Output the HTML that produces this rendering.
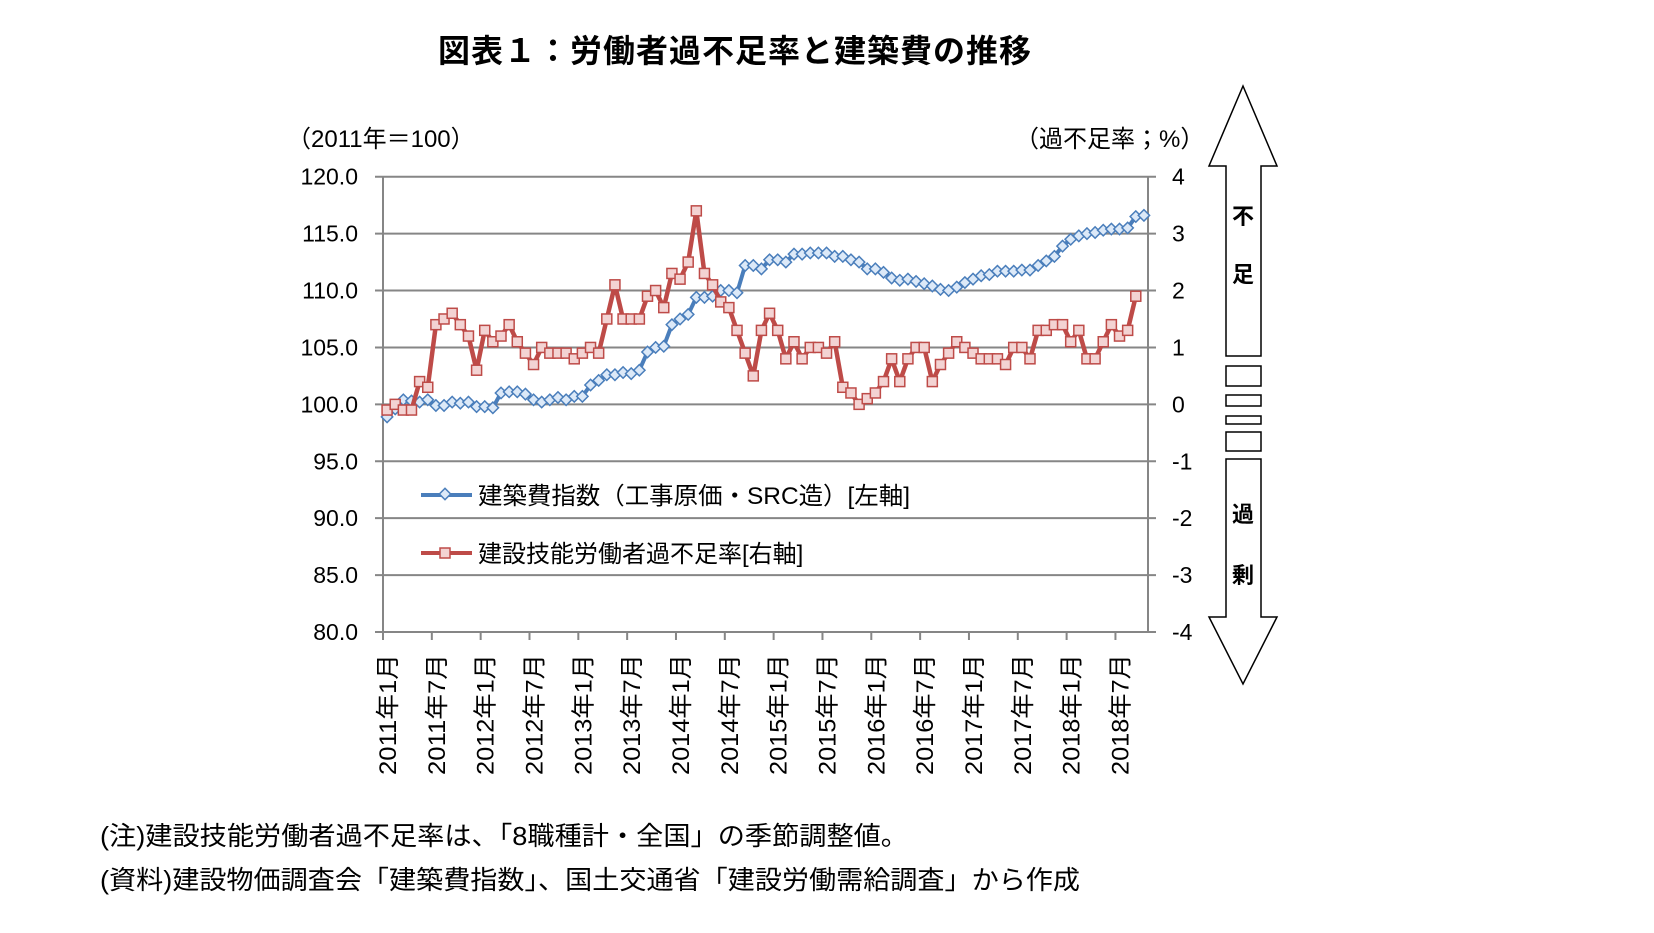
<!DOCTYPE html>
<html><head><meta charset="utf-8">
<style>
body{margin:0;background:#fff;}
svg text{font-family:"Liberation Sans","Noto Sans CJK JP",sans-serif;fill:#000;}
</style></head>
<body>
<svg id="c" width="1654" height="928" viewBox="0 0 1654 928" xmlns="http://www.w3.org/2000/svg">
<text x="735" y="62" font-size="32" font-weight="bold" text-anchor="middle" letter-spacing="1">図表１：労働者過不足率と建築費の推移</text>
<text x="287" y="147" font-size="24">（2011年＝100）</text>
<text x="1015" y="147" font-size="24">（過不足率；%）</text>
<g id="grid"></g>
<g id="axes"></g>
<g id="series"></g>
<g>
 <g>
  <line x1="421" y1="495" x2="472" y2="495" stroke="#4a7ebb" stroke-width="4"/>
  <rect x="441" y="490" width="8" height="8" transform="rotate(45 445 494)" fill="#dce9f8" stroke="#4a7ebb" stroke-width="1.5"/>
  <text x="478" y="504" font-size="24" textLength="432" lengthAdjust="spacingAndGlyphs">建築費指数（工事原価・SRC造）[左軸]</text>
 </g>
 <g>
  <line x1="421" y1="553" x2="472" y2="553" stroke="#be4b48" stroke-width="4"/>
  <rect x="440" y="548" width="10" height="10" fill="#f3d3d3" stroke="#be4b48" stroke-width="1.5"/>
  <text x="478" y="562" font-size="24">建設技能労働者過不足率[右軸]</text>
 </g>
</g>
<g fill="#fff" stroke="#000" stroke-width="1.5">
 <polygon points="1243,86 1277,166 1261,166 1261,356 1226,356 1226,166 1209,166"/>
 <rect x="1226" y="366" width="35" height="20"/>
 <rect x="1226" y="395" width="35" height="11"/>
 <rect x="1226" y="416" width="35" height="8"/>
 <rect x="1226" y="432" width="35" height="19"/>
 <polygon points="1226,459 1261,459 1261,617 1277,617 1243,684 1209,617 1226,617"/>
</g>
<text x="1243" y="224" font-size="22" font-weight="bold" text-anchor="middle">不</text>
<text x="1243" y="282" font-size="22" font-weight="bold" text-anchor="middle">足</text>
<text x="1243" y="522" font-size="22" font-weight="bold" text-anchor="middle">過</text>
<text x="1243" y="583" font-size="22" font-weight="bold" text-anchor="middle">剰</text>
<text x="100" y="845" font-size="26" textLength="808" lengthAdjust="spacingAndGlyphs">(注)建設技能労働者過不足率は、「8職種計・全国」の季節調整値。</text>
<text x="100" y="889" font-size="26" textLength="980" lengthAdjust="spacingAndGlyphs">(資料)建設物価調査会「建築費指数」、国土交通省「建設労働需給調査」から作成</text>
</svg>
<script>
const leftTicks=["120.0","115.0","110.0","105.0","100.0","95.0","90.0","85.0","80.0"];
const rightTicks=["4","3","2","1","0","-1","-2","-3","-4"];
const xLabels=["2011年1月","2011年7月","2012年1月","2012年7月","2013年1月","2013年7月","2014年1月","2014年7月","2015年1月","2015年7月","2016年1月","2016年7月","2017年1月","2017年7月","2018年1月","2018年7月"];
const costIndex=[98.9,99.6,100.4,100.3,100.2,100.4,99.9,99.9,100.2,100.1,100.2,99.8,99.8,99.7,101.0,101.1,101.1,100.9,100.4,100.2,100.4,100.6,100.4,100.7,100.7,101.7,102.1,102.6,102.6,102.8,102.7,103.0,104.6,105.0,105.1,107.0,107.5,107.9,109.4,109.4,109.5,110.0,110.0,109.8,112.2,112.2,111.9,112.7,112.7,112.5,113.2,113.2,113.3,113.3,113.3,113.0,113.0,112.7,112.5,111.9,111.9,111.6,111.1,110.9,111.0,110.8,110.6,110.4,110.1,110.0,110.3,110.7,111.0,111.3,111.4,111.7,111.7,111.7,111.8,111.8,112.2,112.6,113.0,113.9,114.5,114.8,115.0,115.1,115.3,115.4,115.4,115.5,116.5,116.6];
const shortageRate=[-0.1,0.0,-0.1,-0.1,0.4,0.3,1.4,1.5,1.6,1.4,1.2,0.6,1.3,1.1,1.2,1.4,1.1,0.9,0.7,1.0,0.9,0.9,0.9,0.8,0.9,1.0,0.9,1.5,2.1,1.5,1.5,1.5,1.9,2.0,1.7,2.3,2.2,2.5,3.4,2.3,2.1,1.8,1.7,1.3,0.9,0.5,1.3,1.6,1.3,0.8,1.1,0.8,1.0,1.0,0.9,1.1,0.3,0.2,0.0,0.1,0.2,0.4,0.8,0.4,0.8,1.0,1.0,0.4,0.7,0.9,1.1,1.0,0.9,0.8,0.8,0.8,0.7,1.0,1.0,0.8,1.3,1.3,1.4,1.4,1.1,1.3,0.8,0.8,1.1,1.4,1.2,1.3,1.9];
const NS='http://www.w3.org/2000/svg';
const X0=383,X1=1148,Y0=176.7,Y1=632,N=94;
const step=(X1-X0)/N;
const xPos=i=>X0+step*(i+0.5);
const yLeft=v=>Y0+(120-v)/40*(Y1-Y0);
const yRight=v=>Y0+(4-v)/8*(Y1-Y0);
function mk(tag,attrs,parent){const e=document.createElementNS(NS,tag);for(const k in attrs)e.setAttribute(k,attrs[k]);parent.appendChild(e);return e;}
const grid=document.getElementById('grid'),axes=document.getElementById('axes'),ser=document.getElementById('series');
leftTicks.forEach((t,k)=>{
 const y=yLeft(parseFloat(t));
 const g=mk('line',{x1:X0-8,x2:X1+8,y1:y,y2:y,stroke:'#868686','stroke-width':2},grid);
 
 
 const tl=mk('text',{x:358,y:y+8,'font-size':23,'text-anchor':'end'},axes);tl.textContent=t;
 
 
 const tr=mk('text',{x:1172,y:y+8,'font-size':23},axes);tr.textContent=rightTicks[k];
 
 
});
let a=mk('line',{x1:X0,x2:X0,y1:Y0,y2:Y1,stroke:'#868686','stroke-width':2},axes);


a=mk('line',{x1:X1,x2:X1,y1:Y0,y2:Y1,stroke:'#868686','stroke-width':2},axes);


xLabels.forEach((t,k)=>{
 const i=k*6,xt=X0+step*i,xc=xPos(i);
 const tk=mk('line',{x1:xt,x2:xt,y1:Y1,y2:Y1+8,stroke:'#868686','stroke-width':2},axes);
 
 
 const tx=mk('text',{x:0,y:0,'font-size':24,'text-anchor':'end',textLength:121,lengthAdjust:'spacingAndGlyphs',transform:`translate(${xc+9},654) rotate(-90)`},axes);
 tx.textContent=t;
 
 
});
let p=mk('polyline',{points:costIndex.map((v,i)=>xPos(i)+','+yLeft(v)).join(' '),fill:'none',stroke:'#4a7ebb','stroke-width':4,'stroke-linejoin':'round'},ser);


costIndex.forEach((v,i)=>{const x=xPos(i),y=yLeft(v);
 const m=mk('rect',{x:x-4,y:y-4,width:8,height:8,transform:`rotate(45 ${x} ${y})`,fill:'#dce9f8',stroke:'#4a7ebb','stroke-width':1.5},ser);
 
 });
p=mk('polyline',{points:shortageRate.map((v,i)=>xPos(i)+','+yRight(v)).join(' '),fill:'none',stroke:'#be4b48','stroke-width':4.5,'stroke-linejoin':'round'},ser);


shortageRate.forEach((v,i)=>{const x=xPos(i),y=yRight(v);
 const m=mk('rect',{x:x-5,y:y-5,width:10,height:10,fill:'#f3d3d3',stroke:'#be4b48','stroke-width':1.5},ser);
 
 });
</script>
</body></html>
